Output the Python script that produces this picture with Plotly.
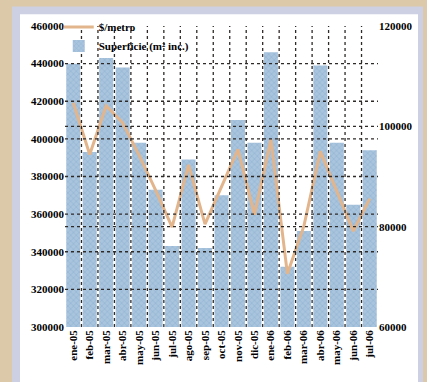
import plotly.graph_objects as go

# Monthly series
months = ["ene-05", "feb-05", "mar-05", "abr-05", "may-05", "jun-05", "jul-05",
          "ago-05", "sep-05", "oct-05", "nov-05", "dic-05", "ene-06", "feb-06",
          "mar-06", "abr-06", "may-06", "jun-06", "jul-06"]
superficie = [440000, 393000, 443000, 438000, 398000, 373000, 343000, 389000,
              342000, 370000, 410000, 398000, 446000, 332000, 351000, 439000,
              398000, 365000, 394000]
precio = [104700, 94400, 104100, 100700, 94200, 87300, 79900, 92300, 80500,
          87900, 95400, 82400, 97400, 70600, 80100, 95000, 87000, 79100, 85600]

left_ticks = [300000, 320000, 340000, 360000, 380000, 400000, 420000, 440000, 460000]
right_ticks = [60000, 80000, 100000, 120000]

idx = list(range(len(months)))

TAN = "#dcc9a9"
LAVENDER = "#ccd0e2"
GRID = "#2e2a28"
FONT = "Liberation Serif"
TICKFONT = dict(family=FONT, size=11, color="black", weight="bold")

fig = go.Figure()

fig.add_trace(go.Bar(
    x=idx, y=superficie, name="Superficie (m² inc.)",
    marker=dict(color="#a9c4dd", line=dict(width=0),
                pattern=dict(shape="x", size=4, solidity=0.35,
                             fgcolor="#86a9cc", fillmode="overlay")),
    yaxis="y",
))
fig.add_trace(go.Scatter(
    x=idx, y=precio, name="$/metro", mode="lines",
    line=dict(color="#e2b58c", width=3),
    yaxis="y2",
))

shapes = [
    # frame around the chart
    dict(type="rect", xref="paper", yref="paper", x0=-0.1693, x1=1.1438,
         y0=-0.2, y1=1.0651, fillcolor=LAVENDER, line=dict(width=0), layer="below"),
    dict(type="rect", xref="paper", yref="paper", x0=-0.1438, x1=1.1278,
         y0=-0.2, y1=1.0391, fillcolor="white", line=dict(width=0), layer="below"),
]
# dotted grid drawn over the bars
for v in left_ticks[1:-1]:
    shapes.append(dict(type="line", xref="paper", x0=0, x1=1, yref="y", y0=v, y1=v,
                       line=dict(color=GRID, width=1.3, dash="dot"), layer="above"))
for v in right_ticks[1:-1]:
    shapes.append(dict(type="line", xref="paper", x0=0, x1=1, yref="y2", y0=v, y1=v,
                       line=dict(color=GRID, width=1.3, dash="dot"), layer="above"))
for i in idx[:-1]:
    shapes.append(dict(type="line", xref="x", x0=i + 0.5, x1=i + 0.5, yref="paper",
                       y0=0, y1=1, line=dict(color=GRID, width=1.3, dash="dot"),
                       layer="above"))

fig.update_layout(
    width=427, height=382,
    margin=dict(l=65, r=49, t=20, b=55),
    paper_bgcolor=TAN,
    plot_bgcolor="white",
    bargap=0.15,
    showlegend=True,
    legend=dict(x=-0.02, y=1.045, xanchor="left", yanchor="top",
                bgcolor="rgba(0,0,0,0)", traceorder="reversed",
                font=dict(family=FONT, size=11, color="black", weight="bold"),
                itemwidth=30, tracegroupgap=0),
    font=dict(family=FONT, color="black"),
    xaxis=dict(range=[-0.5, len(months) - 0.5], tickmode="array", tickvals=idx,
               ticktext=months, tickangle=-90, showgrid=False, zeroline=False,
               tickfont=TICKFONT, ticks=""),
    yaxis=dict(range=[300000, 460000], tickmode="array", tickvals=left_ticks,
               ticktext=[str(v) for v in left_ticks],
               showgrid=False, zeroline=False, ticks="", tickfont=TICKFONT),
    yaxis2=dict(range=[60000, 120000], tickmode="array", tickvals=right_ticks,
                ticktext=[str(v) for v in right_ticks],
                overlaying="y", side="right", showgrid=False, zeroline=False,
                ticks="", tickfont=TICKFONT),
    shapes=shapes,
)

fig.write_html("out.html")
